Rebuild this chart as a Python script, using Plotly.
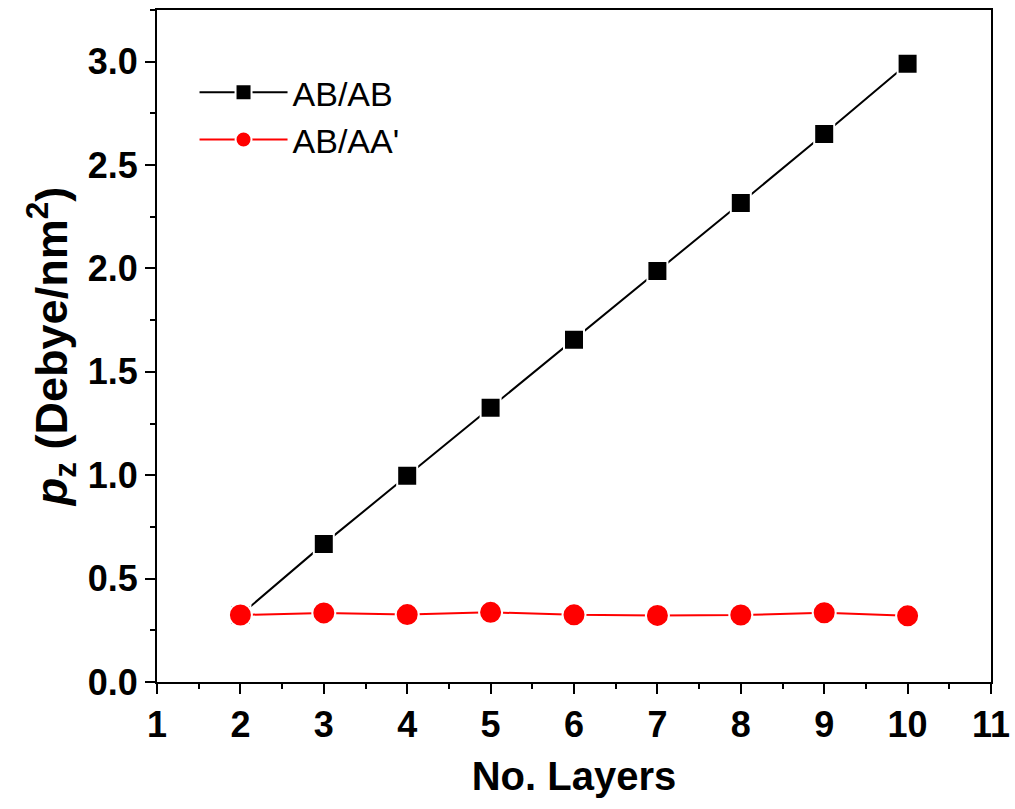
import plotly.graph_objects as go

layers = [2, 3, 4, 5, 6, 7, 8, 9, 10]
ab_ab = [0.324, 0.668, 0.997, 1.326, 1.655, 1.988, 2.317, 2.650, 2.990]
ab_aa = [0.324, 0.334, 0.326, 0.337, 0.325, 0.322, 0.324, 0.335, 0.320]

fig = go.Figure()
fig.add_trace(go.Scatter(
    x=layers, y=ab_ab, mode='lines+markers', name='AB/AB',
    line=dict(color='black', width=2),
    marker=dict(symbol='square', size=20, color='black', line=dict(color='white', width=2))
))
fig.add_trace(go.Scatter(
    x=layers, y=ab_aa, mode='lines+markers', name="AB/AA'",
    line=dict(color='red', width=2),
    marker=dict(symbol='circle', size=23, color='red', line=dict(color='white', width=2))
))

axis_common = dict(
    showline=True, linecolor='black', linewidth=2, mirror=True,
    ticks='outside', ticklen=10, tickwidth=2, tickcolor='black',
    showgrid=False, zeroline=False, ticklabeloverflow='allow', automargin=False,
    tickfont=dict(family='Liberation Sans', size=36, color='black', weight='bold'),
)

fig.update_xaxes(
    range=[1, 11], dtick=1, tick0=1,
    minor=dict(dtick=0.5, ticklen=5, tickwidth=2, tickcolor='black', ticks='outside'),
    title=dict(text='<b>No. Layers</b>', font=dict(family='Liberation Sans', size=40, color='black'), standoff=18),
    **axis_common
)
fig.update_yaxes(
    range=[0, 3.25], dtick=0.5, tick0=0, tickformat='.1f',
    minor=dict(dtick=0.25, ticklen=5, tickwidth=2, tickcolor='black', ticks='outside'),
    title=dict(text='<b><i>p</i><sub>z</sub> (Debye/nm<sup>2</sup>)</b>',
               font=dict(family='Liberation Sans', size=45, color='black'), standoff=6),
    **axis_common
)

fig.update_layout(
    width=1015, height=809,
    margin=dict(l=157, r=24, t=10, b=127),
    paper_bgcolor='white', plot_bgcolor='white',
    showlegend=True,
    legend=dict(x=0.045, y=0.92, xanchor='left', yanchor='top',
                font=dict(family='Liberation Sans', size=34, color='black'),
                bgcolor='rgba(0,0,0,0)', itemwidth=88, tracegroupgap=0),
)

# drop the default body margin so the figure sits at the page corner
fig.write_html("out.html", config={'displayModeBar': False},
               post_script="document.body.style.margin = '0';")
